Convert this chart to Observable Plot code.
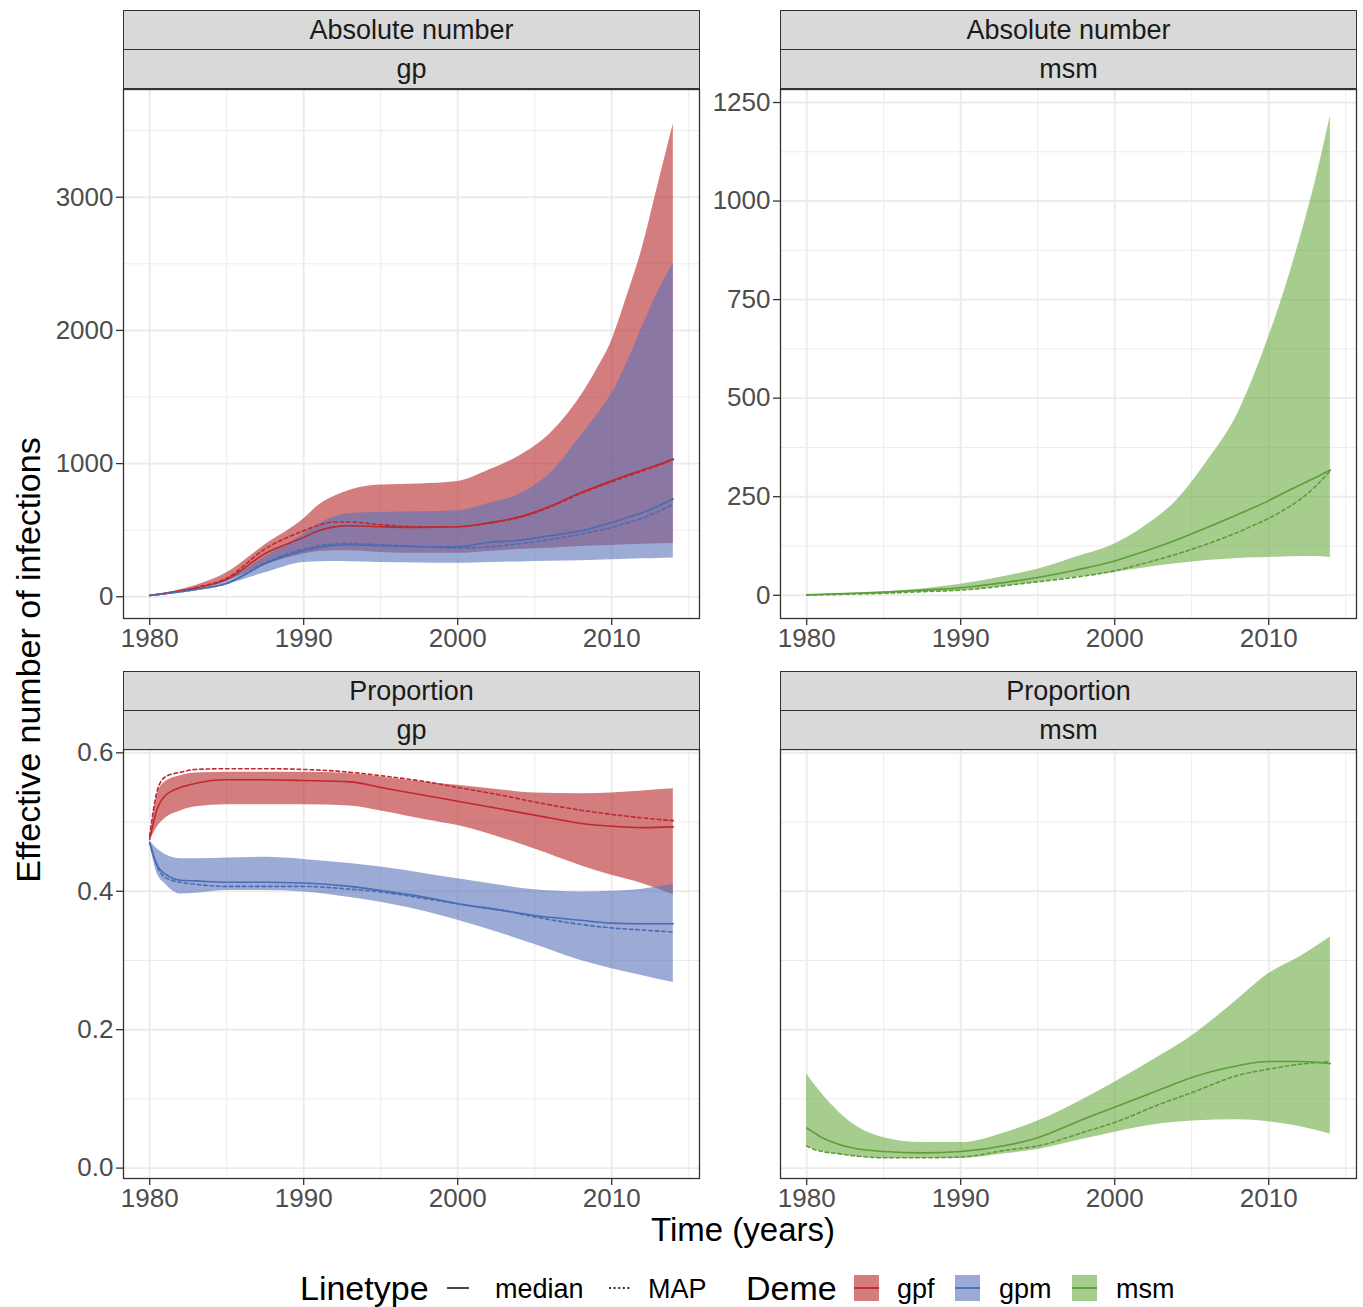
<!DOCTYPE html>
<html><head><meta charset="utf-8">
<script src="https://cdn.jsdelivr.net/npm/d3@7"></script>
<script src="https://cdn.jsdelivr.net/npm/@observablehq/plot@0.6"></script>
<style>
body{margin:0;background:#fff;}
#fig{position:relative;width:1363px;height:1307px;font-family:"Liberation Sans",Arial,sans-serif;background:#fff;overflow:hidden}
.strip{position:absolute;box-sizing:border-box;background:#D9D9D9;border:1.3px solid #333;display:flex;align-items:center;justify-content:center;font-size:27px;color:#1A1A1A;line-height:27px}
.title{position:absolute;text-align:center;color:#000;white-space:nowrap}
</style></head><body><div id="fig"></div>
<script>
// ---------- data ----------
const yearsAbs = [1980,1983,1985,1987.5,1990,1991,1992,1993,1995,1997.5,2000,2002,2004,2006,2008,2009,2010,2011,2012,2013,2014];
const gpfAbsLo  = [10,60,120,240,321,340,346,345,333,326,326,340,356,365,378,382,385,390,395,398,401];
const gpfAbsHi  = [12,85,180,390,584,690,755,800,839,847,866,950,1058,1225,1510,1700,1923,2260,2625,3090,3551];
const gpfAbsMed = [10,65,130,325,446,498,525,533,526,521,526,555,600,680,784,828,872,913,952,992,1035];
const gpfAbsMap = [10,70,140,360,496,538,562,562,541,526,526,552,595,674,776,820,864,905,945,985,1030];
const gpmAbsLo  = [10,45,93,180,258,263,265,263,258,253,251,258,262,266,270,274,278,282,285,288,291];
const gpmAbsHi  = [10,55,125,300,471,550,600,625,633,638,646,700,770,925,1210,1360,1523,1760,2030,2290,2500];
const gpmAbsMed = [10,55,100,248,346,370,386,391,383,376,376,408,425,458,496,525,558,595,632,680,734];
const gpmAbsMap = [10,55,100,255,358,382,396,400,391,378,366,375,398,430,471,495,521,555,590,640,696];
const msmAbsLo  = [0,2,4,8,12,15,19,24,33,46,58,70,80,88,93,95,96,97,98,98,96];
const msmAbsHi  = [1,5,8,16,28,34,41,49,66,97,130,176,240,340,462,552,655,770,900,1045,1215];
const msmAbsMed = [1,5,8,13,19,23,28,33,45,64,87,112,140,172,205,222,240,260,279,298,318];
const msmAbsMap = [0,3,5,9,13,16,20,25,34,46,62,82,104,130,160,177,195,217,242,275,316];

const yearsProp = [1980,1980.5,1981,1982,1983,1985,1987.5,1990,1993,1995,1998,2000,2003,2005,2008,2010,2012,2014];
const gpfPropHi  = [0.473,0.541,0.558,0.567,0.571,0.572,0.572,0.572,0.570,0.565,0.557,0.553,0.546,0.542,0.541,0.542,0.545,0.548];
const gpfPropLo  = [0.473,0.493,0.505,0.516,0.522,0.525,0.525,0.525,0.523,0.516,0.503,0.495,0.476,0.461,0.437,0.423,0.411,0.395];
const gpfPropMed = [0.475,0.520,0.538,0.550,0.556,0.561,0.561,0.560,0.558,0.550,0.538,0.530,0.518,0.510,0.498,0.494,0.492,0.493];
const gpfPropMap = [0.480,0.546,0.565,0.572,0.576,0.577,0.577,0.576,0.572,0.567,0.558,0.550,0.538,0.529,0.517,0.511,0.506,0.502];
const gpmPropHi  = [0.473,0.461,0.453,0.447,0.447,0.448,0.449,0.446,0.440,0.435,0.425,0.418,0.408,0.402,0.399,0.400,0.403,0.410];
const gpmPropLo  = [0.469,0.425,0.411,0.396,0.397,0.401,0.401,0.399,0.391,0.384,0.370,0.358,0.338,0.323,0.300,0.288,0.278,0.268];
const gpmPropMed = [0.470,0.437,0.425,0.416,0.415,0.413,0.413,0.412,0.407,0.401,0.391,0.382,0.372,0.365,0.358,0.354,0.353,0.353];
const gpmPropMap = [0.470,0.435,0.420,0.413,0.410,0.407,0.407,0.407,0.403,0.399,0.389,0.382,0.372,0.363,0.352,0.347,0.344,0.341];
const msmPropHi  = [0.136,0.121,0.107,0.083,0.064,0.044,0.037,0.037,0.052,0.068,0.100,0.124,0.163,0.191,0.244,0.281,0.305,0.334];
const msmPropLo  = [0.032,0.027,0.024,0.020,0.017,0.014,0.014,0.014,0.021,0.027,0.042,0.052,0.064,0.068,0.070,0.067,0.060,0.049];
const msmPropMed = [0.058,0.051,0.044,0.035,0.029,0.024,0.022,0.024,0.033,0.044,0.071,0.088,0.114,0.131,0.148,0.154,0.154,0.151];
const msmPropMap = [0.032,0.027,0.024,0.021,0.018,0.015,0.015,0.016,0.026,0.032,0.052,0.066,0.093,0.109,0.134,0.143,0.150,0.154];

const xMajor = [1980,1990,2000,2010];
const xMinor = [1985,1995,2005,2015];
const absGpTicks = [0,1000,2000,3000], absGpMinor = [500,1500,2500,3500];
const absMsmTicks = [0,250,500,750,1000,1250], absMsmMinor = [125,375,625,875,1125];
const propTicks = [0,0.2,0.4,0.6], propMinor = [0.1,0.3,0.5];
const stripTop = ["Absolute number","Absolute number","Proportion","Proportion"];
const stripBottom = ["gp","msm","gp","msm"];
const linetypeLabels = ["median","MAP"];
const demeLabels = ["gpf","gpm","msm"];

// ---------- styles ----------
const FILL = {gpf:"#B8262A", gpm:"#5873BB", msm:"#6BAA43"};
const LINE = {gpf:"#C0282E", gpm:"#4A6CB5", msm:"#5C9E38"};
const GRID = "#EBEBEB";
const FONT = '"Liberation Sans", Arial, sans-serif';

const band = (yr, lo, hi) => yr.map((t,i)=>({year:t, lo:lo[i], hi:hi[i]}));
const ser = (yr, v) => yr.map((t,i)=>({year:t, v:v[i]}));

const fig = document.getElementById("fig");

function makePanel(c){
  const W = 576, mr = 2, mt = 1, mb = 50, ml = c.marginLeft;
  const marks = [
    Plot.gridX(xMinor, {stroke:GRID, strokeOpacity:1, strokeWidth:1}),
    Plot.gridY(c.yMinor, {stroke:GRID, strokeOpacity:1, strokeWidth:1}),
    Plot.gridX(xMajor, {stroke:GRID, strokeOpacity:1, strokeWidth:1.9}),
    Plot.gridY(c.yMajor, {stroke:GRID, strokeOpacity:1, strokeWidth:1.9})
  ];
  for (const a of c.areas) marks.push(Plot.areaY(a.data, {x:"year", y1:"lo", y2:"hi", fill:FILL[a.deme], fillOpacity:0.6, curve:"monotone-x"}));
  for (const l of c.lines) marks.push(Plot.line(l.data, {x:"year", y:"v", stroke:LINE[l.deme], strokeWidth:1.6, strokeDasharray:l.dash ? "3.5,3" : null, curve:"monotone-x"}));
  marks.push(Plot.frame({stroke:"#333", strokeWidth:1.3}));
  marks.push(Plot.axisX(xMajor, {tickSize:7, tickPadding:3, fontSize:26, fill:"#4D4D4D", stroke:"#333", strokeWidth:1.3, tickFormat:d=>String(d), label:null}));
  if (c.showY) marks.push(Plot.axisY(c.yMajor, {tickSize:7, tickPadding:3, fontSize:26, fill:"#4D4D4D", stroke:"#333", strokeWidth:1.3, tickFormat:c.fmt, label:null}));
  const svg = Plot.plot({
    width: ml+W+mr, height: mt+c.h+mb,
    marginLeft: ml, marginRight: mr, marginTop: mt, marginBottom: mb,
    x: {domain:[1978.3, 2015.7]},
    y: {domain:c.yDomain, axis: c.showY ? undefined : null},
    style: {fontFamily: FONT, background:"transparent", overflow:"visible", color:"#333"},
    marks
  });
  svg.style.position = "absolute";
  svg.style.left = c.left + "px";
  svg.style.top = c.top + "px";
  fig.appendChild(svg);
}

makePanel({left:0, top:88, marginLeft:123, h:529, yDomain:[-163,3809], yMajor:absGpTicks, yMinor:absGpMinor, showY:true, fmt:d=>String(d),
  areas:[{deme:"gpf", data:band(yearsAbs,gpfAbsLo,gpfAbsHi)},{deme:"gpm", data:band(yearsAbs,gpmAbsLo,gpmAbsHi)}],
  lines:[{deme:"gpf",data:ser(yearsAbs,gpfAbsMed)},{deme:"gpf",dash:true,data:ser(yearsAbs,gpfAbsMap)},
         {deme:"gpm",data:ser(yearsAbs,gpmAbsMed)},{deme:"gpm",dash:true,data:ser(yearsAbs,gpmAbsMap)}]});
makePanel({left:700, top:88, marginLeft:80, h:529, yDomain:[-59,1283], yMajor:absMsmTicks, yMinor:absMsmMinor, showY:true, fmt:d=>String(d),
  areas:[{deme:"msm", data:band(yearsAbs,msmAbsLo,msmAbsHi)}],
  lines:[{deme:"msm",data:ser(yearsAbs,msmAbsMed)},{deme:"msm",dash:true,data:ser(yearsAbs,msmAbsMap)}]});
makePanel({left:0, top:748, marginLeft:123, h:429, yDomain:[-0.015,0.6048], yMajor:propTicks, yMinor:propMinor, showY:true, fmt:d3.format(".1f"),
  areas:[{deme:"gpf", data:band(yearsProp,gpfPropLo,gpfPropHi)},{deme:"gpm", data:band(yearsProp,gpmPropLo,gpmPropHi)}],
  lines:[{deme:"gpf",data:ser(yearsProp,gpfPropMed)},{deme:"gpf",dash:true,data:ser(yearsProp,gpfPropMap)},
         {deme:"gpm",data:ser(yearsProp,gpmPropMed)},{deme:"gpm",dash:true,data:ser(yearsProp,gpmPropMap)}]});
makePanel({left:700, top:748, marginLeft:80, h:429, yDomain:[-0.015,0.6048], yMajor:propTicks, yMinor:propMinor, showY:false,
  areas:[{deme:"msm", data:band(yearsProp,msmPropLo,msmPropHi)}],
  lines:[{deme:"msm",data:ser(yearsProp,msmPropMed)},{deme:"msm",dash:true,data:ser(yearsProp,msmPropMap)}]});

// ---------- strips ----------
const stripPos = [{x:123,y:10},{x:780,y:10},{x:123,y:671},{x:780,y:671}];
stripPos.forEach((p,i)=>{
  const a = document.createElement("div"); a.className="strip";
  Object.assign(a.style,{left:p.x+"px", top:p.y+"px", width:"577px", height:"40px"});
  a.textContent = stripTop[i]; fig.appendChild(a);
  const b = document.createElement("div"); b.className="strip";
  Object.assign(b.style,{left:p.x+"px", top:(p.y+39)+"px", width:"577px", height:"40px"});
  b.textContent = stripBottom[i]; fig.appendChild(b);
});

// ---------- axis titles ----------
const xt = document.createElement("div"); xt.className="title";
Object.assign(xt.style,{left:(743-300)+"px", top:"1213px", width:"600px", fontSize:"33px", lineHeight:"33px", height:"33px"});
xt.textContent = "Time (years)"; fig.appendChild(xt);
const yt = document.createElement("div"); yt.className="title";
Object.assign(yt.style,{left:(28.2-300)+"px", top:(660-17)+"px", width:"600px", fontSize:"34px", lineHeight:"34px", height:"34px", transform:"rotate(-90deg)"});
yt.textContent = "Effective number of infections"; fig.appendChild(yt);

// ---------- legend ----------
const NS = "http://www.w3.org/2000/svg";
const lg = document.createElementNS(NS,"svg");
lg.setAttribute("width","1363"); lg.setAttribute("height","60");
Object.assign(lg.style,{position:"absolute", left:"0px", top:"1258px"});
lg.setAttribute("font-family", FONT);
function el(tag, attrs, text){ const e=document.createElementNS(NS,tag); for(const k in attrs) e.setAttribute(k,attrs[k]); if(text!=null) e.textContent=text; lg.appendChild(e); return e; }
el("text",{x:300,y:42.2,"font-size":34,fill:"#000"},"Linetype");
el("line",{x1:447,x2:469,y1:30,y2:30,stroke:"#333","stroke-width":1.8});
el("text",{x:495,y:39.7,"font-size":27,fill:"#000"},linetypeLabels[0]);
el("line",{x1:609,x2:632,y1:30,y2:30,stroke:"#333","stroke-width":1.8,"stroke-dasharray":"2,2.6"});
el("text",{x:648,y:39.7,"font-size":27,fill:"#000"},linetypeLabels[1]);
el("text",{x:746,y:42.2,"font-size":34,fill:"#000"},"Deme");
const keyX = [854,955,1072], labX = [897,999,1116];
demeLabels.forEach((d,i)=>{
  el("rect",{x:keyX[i],y:17,width:25,height:26,fill:FILL[d],"fill-opacity":0.6});
  el("line",{x1:keyX[i],x2:keyX[i]+25,y1:30,y2:30,stroke:LINE[d],"stroke-width":1.8});
  el("text",{x:labX[i],y:39.7,"font-size":27,fill:"#000"},d);
});
fig.appendChild(lg);
</script></body></html>
